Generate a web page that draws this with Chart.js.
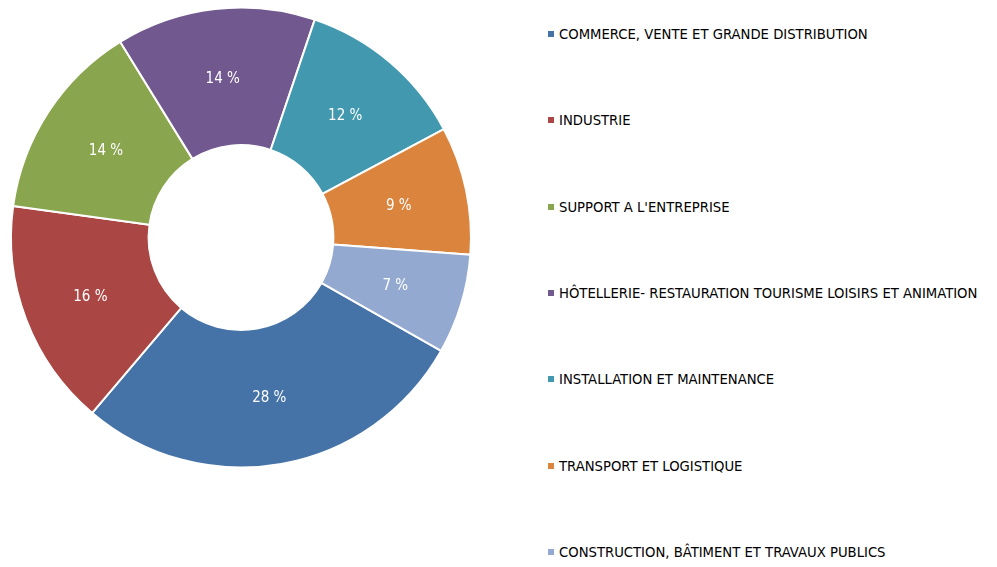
<!DOCTYPE html>
<html>
<head>
<meta charset="utf-8">
<script src="https://cdn.jsdelivr.net/npm/chart.js@4/dist/chart.umd.min.js"></script>
<style>
  body { margin: 0; background: #fff; width: 997px; height: 567px; overflow: hidden; position: relative; }
  #wrap { position: absolute; left: 0; top: 0; width: 482px; height: 475px; }
  #legende { position: absolute; left: 548px; top: 0; margin: 0; padding: 0; list-style: none;
    font-family: "DejaVu Sans Condensed", "DejaVu Sans", sans-serif; font-size: 14.7px; color: #000; }
  #legende li { position: absolute; left: 0; white-space: nowrap; line-height: 18px; }
  #legende span { display: inline-block; width: 6px; height: 6px; margin-right: 5px; vertical-align: 2px; }
</style>
</head>
<body>
<div id="wrap"><canvas id="graficoSecteurs"></canvas></div>
<ul id="legende"></ul>
<script>
// =======================
// DONNÉES
// =======================
const secteurs = [
  "COMMERCE, VENTE ET GRANDE DISTRIBUTION",
  "INDUSTRIE",
  "SUPPORT A L'ENTREPRISE",
  "HÔTELLERIE- RESTAURATION TOURISME LOISIRS ET ANIMATION",
  "INSTALLATION ET MAINTENANCE",
  "TRANSPORT ET LOGISTIQUE",
  "CONSTRUCTION, BÂTIMENT ET TRAVAUX PUBLICS"
];
const pourcentages = [28, 16, 14, 14, 12, 9, 7];
const couleurs = ["#4572A7", "#AA4643", "#89A54E", "#71588F", "#4198AF", "#DB843D", "#93A9CF"];

// =======================
// ÉTIQUETTES DANS LES PARTS
// =======================
const etiquettes = {
  id: "etiquettes",
  afterDatasetsDraw(chart) {
    const ctx = chart.ctx;
    const meta = chart.getDatasetMeta(0);
    ctx.save();
    ctx.fillStyle = "#ffffff";
    ctx.font = "15px 'DejaVu Sans Condensed', 'DejaVu Sans', sans-serif";
    ctx.textAlign = "center";
    ctx.textBaseline = "middle";
    meta.data.forEach((arc, i) => {
      const p = arc.tooltipPosition();
      ctx.fillText(pourcentages[i] + " %", p.x, p.y + 2);
    });
    ctx.restore();
  }
};

new Chart(document.getElementById("graficoSecteurs"), {
  type: "doughnut",
  data: {
    labels: secteurs,
    datasets: [{
      data: pourcentages,
      backgroundColor: couleurs,
      borderColor: "#ffffff",
      borderWidth: 2
    }]
  },
  options: {
    responsive: true,
    maintainAspectRatio: false,
    animation: false,
    radius: 230,
    cutout: 95,
    rotation: 119.5,
    layout: { padding: 0 },
    plugins: {
      legend: { display: false },
      tooltip: { enabled: false }
    }
  },
  plugins: [etiquettes]
});

// =======================
// LÉGENDE
// =======================
const legende = document.getElementById("legende");
secteurs.forEach((s, i) => {
  const li = document.createElement("li");
  li.style.top = (25 + i * 86.3) + "px";
  li.innerHTML = `<span style="background:${couleurs[i]}"></span>${s}`;
  legende.appendChild(li);
});
</script>
</body>
</html>
